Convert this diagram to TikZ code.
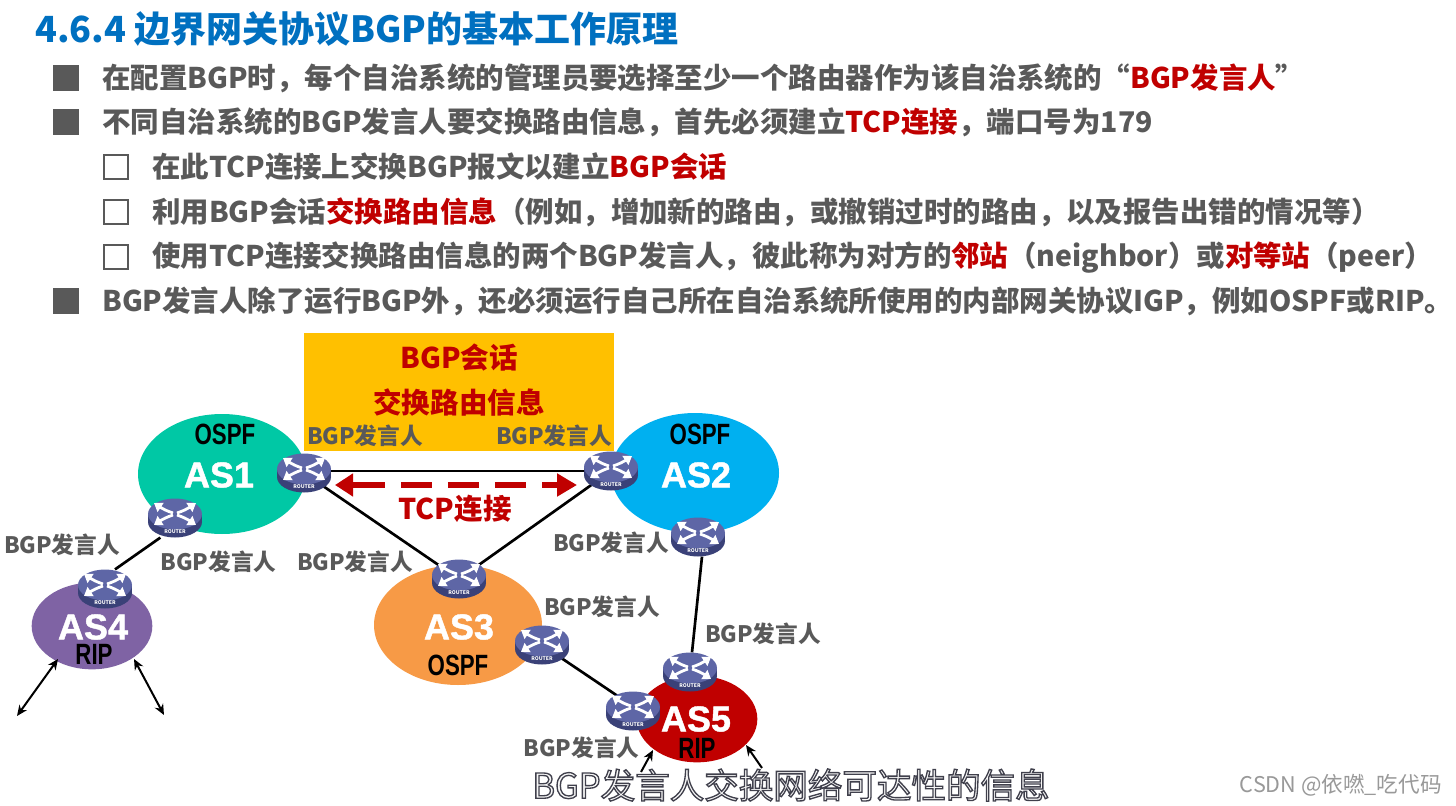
\documentclass[tikz,border=0pt]{standalone}
\usepackage{fontspec}
\usetikzlibrary{arrows.meta,shapes.geometric}
\setmainfont{Noto Sans CJK SC}
\newfontfamily\latinf[BoldFeatures={FakeBold=1.2}]{Liberation Sans}
\newfontfamily\narrowf[FakeStretch=0.76]{Liberation Sans}
\definecolor{bodygrey}{HTML}{595959}
\definecolor{titleblue}{HTML}{0070C0}
\definecolor{redx}{HTML}{C00000}
\definecolor{rtop}{HTML}{5E66A6}
\definecolor{rside}{HTML}{3A4178}
\definecolor{boxyellow}{HTML}{FFC000}
\definecolor{asone}{HTML}{00C8A5}
\definecolor{astwo}{HTML}{00B0F0}
\definecolor{asthree}{HTML}{F79A46}
\definecolor{asfour}{HTML}{7F63A4}
\newcommand{\rt}[1]{\textcolor{redx}{#1}}
\newcommand{\routergfx}[1]{%
  \begin{scope}[shift={(#1)}]
    \fill[rside] (0,4) ellipse[x radius=27,y radius=15.5];
    \fill[rside] (-27,-4) rectangle (27,4);
    \fill[rtop] (0,-4) ellipse[x radius=27,y radius=15.5];
    \foreach \a/\b in {-1/-1,1/-1,-1/1,1/1}{
      \draw[white,line width=2.1pt,-{Triangle[length=6pt,width=8pt]}]
        (\a*2,{-4+\b*1}) .. controls (\a*8,{-4+\b*3}) and (\a*12,{-4+\b*5}) .. (\a*21,{-4+\b*11});
    }
    \node[white,font=\bfseries\fontsize{3.8}{4}\selectfont,inner sep=0pt] at (0,13.5) {ROUTER};
  \end{scope}}
\tikzset{
  x=0.75pt,y=-0.75pt,
  bodyline/.style={anchor=west,inner sep=0pt,text=bodygrey,font=\bfseries\fontsize{21.35}{24}\selectfont},
  titleline/.style={anchor=west,inner sep=0pt,text=titleblue,font=\bfseries\fontsize{27}{30}\selectfont},
  bgp/.style={inner sep=0pt,text=bodygrey,font=\bfseries\fontsize{17}{19}\selectfont},
  asname/.style={inner sep=0pt,text=white,font=\latinf\bfseries\fontsize{27}{29}\selectfont},
  proto/.style={inner sep=0pt,text=black,font=\narrowf\bfseries\fontsize{22}{24}\selectfont},
  redlab/.style={inner sep=0pt,text=redx,font=\bfseries\fontsize{21.4}{24}\selectfont},
  routerhit/.style={ellipse,minimum width=40.5pt,minimum height=29pt,inner sep=0pt},
  asbig/.style={ellipse,minimum width=126pt,minimum height=90pt,inner sep=0pt},
  assmall/.style={ellipse,minimum width=90.5pt,minimum height=65pt,inner sep=0pt},
  link/.style={black,line width=2pt},
  ext/.style={black,line width=1.5pt},
  bulleta/.style={fill=bodygrey,minimum size=20pt,inner sep=0pt},
  bulletb/.style={draw=bodygrey,line width=2pt,minimum size=18pt,inner sep=0pt},
}
\begin{document}
\begin{tikzpicture}
\useasboundingbox (0,0) rectangle (1456,806);
\fill[white] (0,0) rectangle (1456,806);

\node[titleline] (title) at (35,29) {4.6.4 边界网关协议BGP的基本工作原理};

\node[bulleta] (b1) at (66,78) {};
\node[bodyline] (t1) at (102,78) {在配置BGP时，每个自治系统的管理员要选择至少一个路由器作为该自治系统的“\rt{BGP发言人}”};
\node[bulleta] (b2) at (66,122) {};
\node[bodyline] (t2) at (102,122) {不同自治系统的BGP发言人要交换路由信息，首先必须建立\rt{TCP连接}，端口号为179};
\node[bulletb] (b3) at (116,167) {};
\node[bodyline] (t3) at (152,167) {在此TCP连接上交换BGP报文以建立\rt{BGP会话}};
\node[bulletb] (b4) at (116,212) {};
\node[bodyline] (t4) at (152,212) {利用BGP会话\rt{交换路由信息}（例如，增加新的路由，或撤销过时的路由，以及报告出错的情况等）};
\node[bulletb] (b5) at (116,257) {};
\node[bodyline] (t5) at (152,257) {使用TCP连接交换路由信息的两个BGP发言人，彼此称为对方的\rt{邻站}（neighbor）或\rt{对等站}（peer）};
\node[bulleta] (b6) at (66,301) {};
\node[bodyline] (t6) at (102,301) {BGP发言人除了运行BGP外，还必须运行自己所在自治系统所使用的内部网关协议IGP，例如OSPF或RIP。};

% yellow box
\node[fill=boxyellow,minimum width=232.5pt,minimum height=88.5pt,inner sep=0pt] (box) at (459,392) {};
\node[redlab] (lsess) at (459,358) {BGP会话};
\node[redlab] (lexch) at (459,402) {交换路由信息};

% autonomous systems
\node[asbig,fill=asone] (as1) at (222,474) {};
\node[asbig,fill=astwo] (as2) at (695,473) {};
\node[asbig,fill=asthree] (as3) at (458,625) {};
\node[assmall,fill=asfour] (as4) at (92,626) {};
\node[assmall,fill=redx] (as5) at (697,719) {};

\node[asname] (n1) at (219,475) {AS1};
\node[asname] (n2) at (696,475) {AS2};
\node[asname] (n3) at (459,627) {AS3};
\node[asname] (n4) at (93,627) {AS4};
\node[asname] (n5) at (696,719) {AS5};
\node[proto] (p1) at (225,434) {OSPF};
\node[proto] (p2) at (700,434) {OSPF};
\node[proto] (p3) at (458,665) {OSPF};
\node[proto] (p4) at (94,654) {RIP};
\node[proto] (p5) at (697,748) {RIP};

% routers (anchors)
\node[routerhit] (r1) at (304,473) {};
\node[routerhit] (r2) at (611,471) {};
\node[routerhit] (r3) at (175,518) {};
\node[routerhit] (r4) at (105,589) {};
\node[routerhit] (r5) at (459,579) {};
\node[routerhit] (r6) at (542,645) {};
\node[routerhit] (r7) at (698,537) {};
\node[routerhit] (r8) at (690,672) {};
\node[routerhit] (r9) at (633,711) {};

\draw[link] (r1.center |- 0,471) -- (r2.center |- 0,471);
\draw[link] (r1) -- (r5);
\draw[link] (r2) -- (r5);
\draw[link] ([xshift=-11pt]r3.south) -- ([xshift=7.5pt]r4.north);
\draw[link] ([xshift=3pt]r7.south) -- ([xshift=1.5pt]r8.north);
\draw[link] (r6) -- ([yshift=3.5pt]r9.center);

\routergfx{r1}\routergfx{r2}\routergfx{r3}\routergfx{r4}\routergfx{r5}
\routergfx{r6}\routergfx{r7}\routergfx{r8}\routergfx{r9}

% TCP arrow
\coordinate (tl) at (335,485);
\coordinate (tr) at (577,485);
\draw[redx,line width=5.2pt,dash pattern=on 24.7pt off 12pt on 23.3pt off 12pt on 23.3pt off 12pt on 23.3pt off 12pt,
  {Triangle[length=13.5pt,width=16.5pt]}-{Triangle[length=15pt,width=16.5pt]}] (tl) -- (tr);
\node[redlab] (ltcp) at (455,509) {TCP连接};

% external arrows
\coordinate (e1) at (17,716);
\coordinate (e2) at (164,715);
\coordinate (e3) at (58,659);
\coordinate (e4) at (134,659);
\coordinate (e5) at (653,750);
\coordinate (e6) at (641,772);
\coordinate (e7) at (746,745);
\coordinate (e8) at (762,768);
\draw[ext,{Stealth[length=8pt,width=7pt]}-{Stealth[length=8pt,width=7pt]}] (e3) -- (e1);
\draw[ext,{Stealth[length=8pt,width=7pt]}-{Stealth[length=8pt,width=7pt]}] (e4) -- (e2);
\draw[ext,{Stealth[length=8pt,width=7pt]}-] (e5) -- (e6);
\draw[ext,{Stealth[length=8pt,width=7pt]}-] (e7) -- (e8);

% BGP speaker labels
\node[bgp] (s1) at (365,436) {BGP发言人};
\node[bgp] (s2) at (554,436) {BGP发言人};
\node[bgp] (s3) at (62,545) {BGP发言人};
\node[bgp] (s4) at (218.5,562) {BGP发言人};
\node[bgp] (s5) at (355,562) {BGP发言人};
\node[bgp] (s6) at (611,543) {BGP发言人};
\node[bgp] (s7) at (602,607) {BGP发言人};
\node[bgp] (s8) at (763,634) {BGP发言人};
\node[bgp] (s9) at (581.5,748) {BGP发言人};

% subtitle and watermark
\node[inner sep=0pt,font=\fontsize{25.9}{29}\selectfont] (sub) at (791,785)
  {\special{pdf:code 2 Tr 1 w 0.25 0.25 0.3 RG 0.97 0.97 0.97 rg}BGP发言人交换网络可达性的信息\special{pdf:code 0 Tr 0 0 0 RG 0 0 0 rg}};
\node[inner sep=0pt,text=black!40,font=\fontsize{16.2}{18}\selectfont,anchor=east] (wm) at (1442,785) {CSDN @依嘫\_吃代码};
\end{tikzpicture}
\end{document}
